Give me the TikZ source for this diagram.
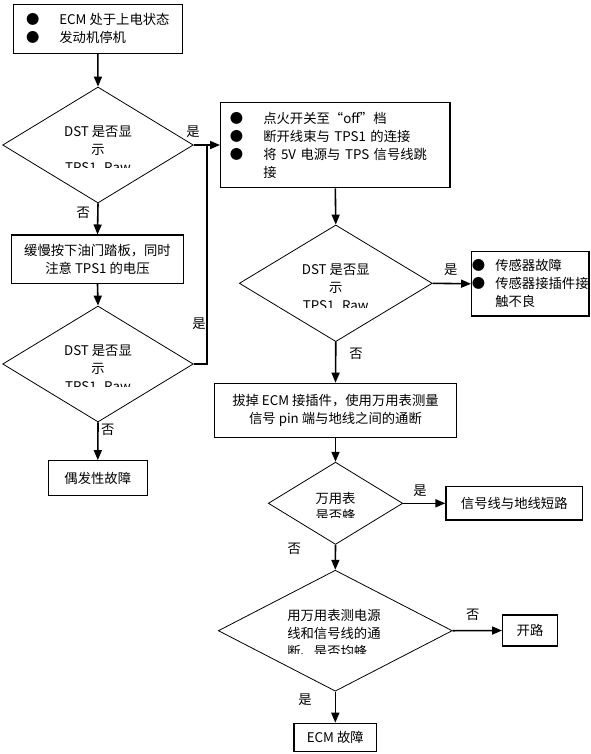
\documentclass[tikz,border=0pt]{standalone}
\usepackage{fontspec}
\setmainfont{Noto Sans CJK SC}
\usetikzlibrary{arrows.meta,shapes.geometric}
\newcommand{\bul}{\makebox[25pt][l]{●}}
\newcommand{\bulnarrow}{\makebox[17.5pt][l]{●}}
\tikzset{
  stepbox/.style ={draw=black, line width=0.9pt, inner sep=0pt,
                   align=center, font=\fontsize{10}{13.5}\selectfont},
  decbox/.style  ={draw=black, line width=0.6pt, shape=diamond, inner sep=0pt},
  dectext/.style ={align=center, inner sep=0pt, font=\fontsize{10}{13.5}\selectfont},
  flowarr/.style ={-{Triangle[length=7.5pt,width=6pt]}, line width=1.2pt},
  yesno/.style   ={inner sep=0pt, font=\fontsize{10}{12}\selectfont},
}
\begin{document}
\begin{tikzpicture}[x=0.75pt,y=-0.75pt]
    \useasboundingbox (0,0) rectangle (591,754);
    % ----- left column -----
    \node[stepbox,align=left,minimum width=126.75pt,minimum height=36.75pt] (start) at (97.8,28.8)
      {\bul ECM 处于上电状态\\ \bul 发动机停机};
    \node[decbox,minimum width=143pt,minimum height=87pt] (dst1) at (98,145) {};
    \begin{scope}
      \clip (40,118) rectangle (156,167.3);
      \node[dectext] (dst1txt) at (98,150) {DST 是否显\\示\\TPS1\_Raw};
    \end{scope}
    \node[stepbox,minimum width=128.7pt,minimum height=36.2pt] (pedal) at (97.5,259.2)
      {缓慢按下油门踏板，同时\\注意 TPS1 的电压};
    \node[decbox,minimum width=143pt,minimum height=87pt] (dst2) at (98,364) {};
    \begin{scope}
      \clip (40,337) rectangle (156,386.7);
      \node[dectext] (dst2txt) at (98,369) {DST 是否显\\示\\TPS1\_Raw};
    \end{scope}
    \node[stepbox,minimum width=74.25pt,minimum height=26.25pt] (sporadic) at (97.8,478.2) {偶发性故障};

    % ----- right column -----
    \node[stepbox,align=left,text width=158pt,minimum width=172pt,minimum height=64pt] (ignoff) at (335.3,145)
      {\bul 点火开关至“off”档\\ \bul 断开线束与 TPS1 的连接\\ \bul 将 5V 电源与 TPS 信号线跳\\ \hspace*{25pt}接};
    \node[decbox,minimum width=144.75pt,minimum height=87.5pt] (dst3) at (335.8,283.3) {};
    \begin{scope}
      \clip (280,256) rectangle (392,307.3);
      \node[dectext] (dst3txt) at (335.8,288) {DST 是否显\\示\\TPS1\_Raw};
    \end{scope}
    \node[stepbox,align=left,minimum width=88pt,minimum height=48.2pt] (sensor) at (530.3,283.8)
      {\bulnarrow 传感器故障\\ \bulnarrow 传感器接插件接\\ \hspace*{17.5pt}触不良};
    \node[stepbox,minimum width=181.8pt,minimum height=40.5pt] (unplug) at (335.5,410.3)
      {拔掉 ECM 接插件，使用万用表测量\\信号 pin 端与地线之间的通断};
    \node[decbox,minimum width=100.8pt,minimum height=61.7pt] (meter) at (335.5,503.3) {};
    \begin{scope}
      \clip (295,485) rectangle (376,517.3);
      \node[dectext,font=\fontsize{10}{12.5}\selectfont] (metertxt) at (335.5,506.7) {万用表\\是否蜂};
    \end{scope}
    \node[stepbox,minimum width=102.5pt,minimum height=25pt] (short) at (514.3,503.3) {信号线与地线短路};
    \node[decbox,minimum width=175.5pt,minimum height=90.75pt] (wire) at (335.3,630.7) {};
    \begin{scope}
      \clip (270,600) rectangle (400,653.3);
      \node[dectext,align=left,text width=72pt] (wiretxt) at (335.3,633)
        {用万用表测电源\\线和信号线的通\\断、是否均蜂};
    \end{scope}
    \node[stepbox,minimum width=41pt,minimum height=23.25pt] (open) at (530,630.5) {开路};
    \node[stepbox,minimum width=62pt,minimum height=21pt] (ecmfault) at (335.3,737.3) {ECM 故障};

    % ----- connectors -----
    \coordinate (join) at (207,145);
    \draw[flowarr] (start.south) -- (dst1.north);
    \draw[flowarr] (dst1.south) -- (pedal.north);
    \draw[flowarr] (pedal.south) -- (dst2.north);
    \draw[flowarr] (dst2.south) -- (sporadic.north);
    \draw[flowarr] (dst1.east) -- (ignoff.west);
    \draw[line width=1.2pt] (dst2.east) -| (join);
    \draw[flowarr] (ignoff.south) -- (dst3.north);
    \draw[flowarr] (dst3.east) -- (sensor.west);
    \draw[flowarr] (dst3.south) -- (unplug.north);
    \draw[flowarr] (unplug.south) -- (meter.north);
    \draw[flowarr] (meter.east) -- (short.west);
    \draw[flowarr] (meter.south) -- (wire.north);
    \draw[flowarr] (wire.east) -- (open.west);
    \draw[flowarr] (wire.south) -- (ecmfault.north);

    % ----- yes / no labels -----
    \node[yesno] (y1) at (193,131.7) {是};
    \node[yesno] (n1) at (83.3,213.3) {否};
    \node[yesno] (y2) at (199,323.3) {是};
    \node[yesno] (n2) at (107.7,430) {否};
    \node[yesno] (y3) at (450.7,270) {是};
    \node[yesno] (n3) at (356,354) {否};
    \node[yesno] (y4) at (420,490.7) {是};
    \node[yesno] (n4) at (294.3,549) {否};
    \node[yesno] (n5) at (472.7,615) {否};
    \node[yesno] (y5) at (305,700) {是};
\end{tikzpicture}
\end{document}
